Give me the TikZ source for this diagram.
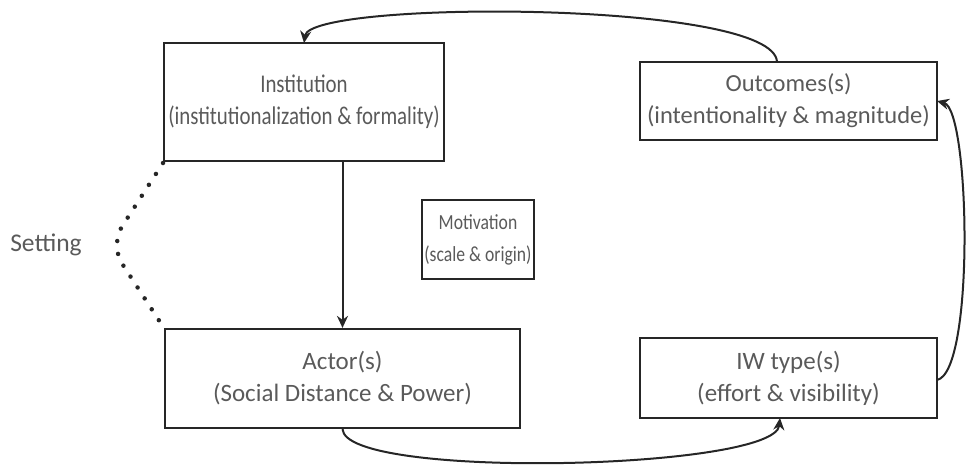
\documentclass[tikz,border=0pt]{standalone}
\usepackage{fontspec}
\setmainfont{Carlito}
\newfontfamily\narrowfont{Carlito}[FakeStretch=0.82]
\usetikzlibrary{arrows.meta}
\definecolor{txt}{HTML}{5A5A5A}
\definecolor{ln}{HTML}{262626}
\begin{document}
\begin{tikzpicture}[x=1pt,y=-1pt,
  box/.style={draw=ln,line width=2.2pt,rectangle,inner sep=0pt,align=center,
    text=txt,font=\fontsize{25}{32}\selectfont},
  arr/.style={draw=ln,line width=2pt,-{Stealth[length=12pt,width=11pt]}},
  dots/.style={draw=ln,line width=4.5pt,line cap=round,dash pattern=on 0pt off 13pt}]
\useasboundingbox (0,0) rectangle (967,466);
\node[box,minimum width=280,minimum height=118,font=\narrowfont\fontsize{25.5}{32}\selectfont] (inst) at (304,102)
  {Institution\\(institutionalization \& formality)};
\node[box,minimum width=297,minimum height=78,font=\fontsize{24.5}{32}\selectfont] (out) at (788.5,101)
  {Outcomes(s)\\(intentionality \& magnitude)};
\node[box,minimum width=112,minimum height=79,font=\narrowfont\fontsize{21.5}{32}\selectfont] (mot) at (478,239.5)
  {Motivation\\(scale \& origin)};
\node[box,minimum width=355,minimum height=99] (actor) at (342.5,378.5)
  {Actor(s)\\(Social Distance \& Power)};
\node[box,minimum width=297,minimum height=80] (iw) at (788.5,378)
  {IW type(s)\\(effort \& visibility)};
\node[text=txt,font=\fontsize{25.5}{30}\selectfont] (set) at (46,245) {Setting};
\coordinate (d1) at (163,163);
\coordinate (d2) at (110,245);
\coordinate (d3) at (160,322);
\draw[dots,rounded corners=22pt] (d1) -- (d2) -- (d3);
\draw[arr] (inst.south -| actor.north) -- (actor.north);
\coordinate (iwb) at (780,418);
\draw[arr] (actor.south) .. controls (345,480) and (775,470) .. (iwb);
\coordinate (iwr) at (937,380);
\coordinate (outr) at (937,101);
\draw[arr] (iwr) .. controls (975,372) and (970,110) .. (outr);
\coordinate (outt) at (777,62);
\coordinate (instt) at (304,43);
\draw[arr] (outt) .. controls (775,0) and (310,0) .. (instt);
\end{tikzpicture}
\end{document}
